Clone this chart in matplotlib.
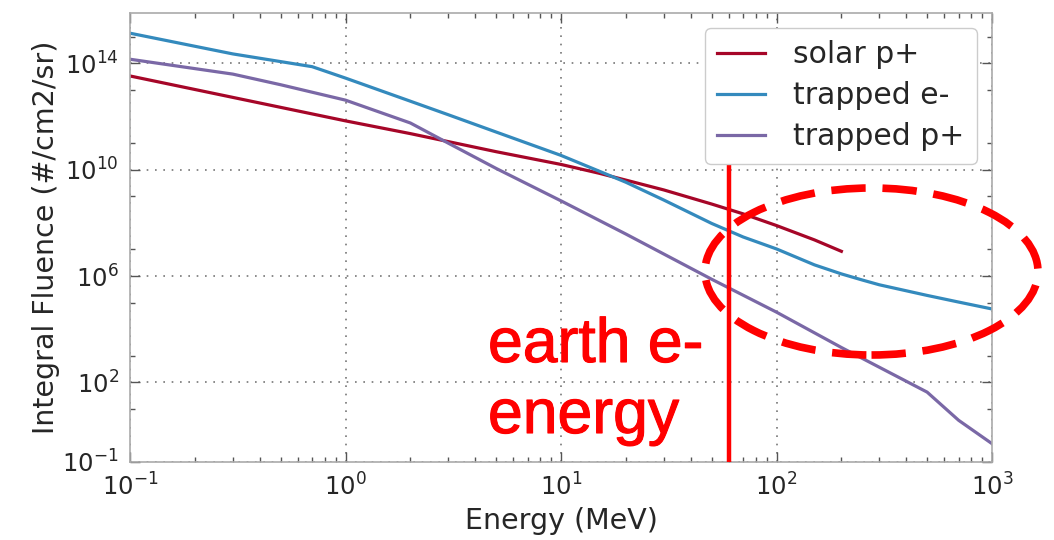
import numpy as np
import matplotlib
matplotlib.use('Agg')
import matplotlib.pyplot as plt
import matplotlib.patheffects as pe
from matplotlib.patches import Ellipse
from matplotlib.ticker import FixedLocator, LogFormatterSciNotation, LogLocator, NullFormatter

# energies in MeV, log10 of fluence in #/cm2/sr
solar_e = [0.1, 1, 2, 5, 10, 15, 20, 30, 50, 70, 100, 150, 200]
solar_logf = [13.53, 11.84, 11.36, 10.68, 10.2, 9.87, 9.61, 9.24, 8.71, 8.34, 7.9, 7.36, 6.93]

elec_e = [0.1, 0.3, 0.7, 1, 2, 3, 5, 10, 15, 20, 30, 50, 70, 100, 150, 200, 250, 300, 500, 700, 1000]
elec_logf = [15.14, 14.36, 13.88, 13.45, 12.58, 12.07, 11.42, 10.54, 9.95, 9.53, 8.86, 7.98,
             7.47, 7.02, 6.42, 6.08, 5.85, 5.67, 5.27, 5.02, 4.76]

prot_e = [0.1, 0.3, 0.5, 1, 2, 3, 5, 10, 20, 50, 100, 200, 500, 700, 1000]
prot_logf = [14.16, 13.6, 13.2, 12.62, 11.76, 11.0, 10.05, 8.83, 7.58, 5.88, 4.64, 3.31, 1.63, 0.57, -0.31]

series_labels = ['solar p+', 'trapped e-', 'trapped p+']
series_colors = ['#A60628', '#348ABD', '#7A68A6']

earth_e_energy = 60  # MeV
y_major = [1e-1, 1e2, 1e6, 1e10, 1e14]
y_minor = [10.0 ** k for k in range(1, 16, 2)]

plt.rcParams['font.family'] = ['DejaVu Sans']
plt.rcParams['axes.unicode_minus'] = False

fig = plt.figure(figsize=(10.54, 5.4), dpi=100)
ax = fig.add_axes([130 / 1054, 1 - 462 / 540, 862 / 1054, 449 / 540])

for xs, ys, lab, col in zip([solar_e, elec_e, prot_e],
                            [solar_logf, elec_logf, prot_logf],
                            series_labels, series_colors):
    ax.plot(xs, 10 ** np.array(ys), color=col, lw=2.3, label=lab)

ax.set_xscale('log')
ax.set_yscale('log')
ax.set_xlim(0.1, 1000)
ax.set_ylim(0.1, 10 ** 15.9)

ax.yaxis.set_major_locator(FixedLocator(y_major))
ax.yaxis.set_minor_locator(FixedLocator(y_minor))
ax.yaxis.set_major_formatter(LogFormatterSciNotation())
ax.yaxis.set_minor_formatter(NullFormatter())
ax.xaxis.set_minor_locator(LogLocator(base=10, subs=np.arange(2, 10)))
ax.xaxis.set_minor_formatter(NullFormatter())

ax.grid(True, which='major', color='#777777', lw=1.2, linestyle=(0, (1, 4)))
ax.tick_params(which='both', direction='in', top=True, right=True, color='#555555',
               labelcolor='#262626', labelsize=17.5)
ax.tick_params(which='major', length=7, width=1, pad=8)
ax.tick_params(which='minor', length=3.5, width=1)
for sp in ax.spines.values():
    sp.set_color('#aaaaaa')
    sp.set_linewidth(1.2)

ax.set_xlabel('Energy (MeV)', fontsize=20.5, color='#262626', labelpad=5)
ax.set_ylabel('Integral Fluence (#/cm2/sr)', fontsize=20.5, color='#262626', labelpad=2)

leg = ax.legend(loc='upper right', fontsize=21.5, handlelength=1.6, handletextpad=0.95,
                labelspacing=0.4, borderaxespad=0.5, borderpad=0.42,
                fancybox=True, framealpha=1)
leg.get_frame().set_edgecolor('#cccccc')
for t in leg.get_texts():
    t.set_color('#262626')

# annotation: earth electron energy marker
ax.vlines(earth_e_energy, 0.1, 10 ** 10.3, color='red', lw=3.2, zorder=5)
stroke = [pe.withStroke(linewidth=0.8, foreground='red')]
fig.text(488 / 1054, 1 - 362 / 540, 'earth e-', color='red', fontsize=45,
         family='Liberation Sans', va='baseline', ha='left', path_effects=stroke)
fig.text(488 / 1054, 1 - 433 / 540, 'energy', color='red', fontsize=45,
         family='Liberation Sans', va='baseline', ha='left', path_effects=stroke)

ell = Ellipse((871.5 / 1054, 1 - 271.5 / 540), 333 / 1054, 167 / 540,
              transform=fig.transFigure, fill=False, edgecolor='red', lw=5.5,
              linestyle=(0, (4.5, 2.2)), zorder=6)
fig.patches.append(ell)

fig.savefig('out.png', dpi=100)
